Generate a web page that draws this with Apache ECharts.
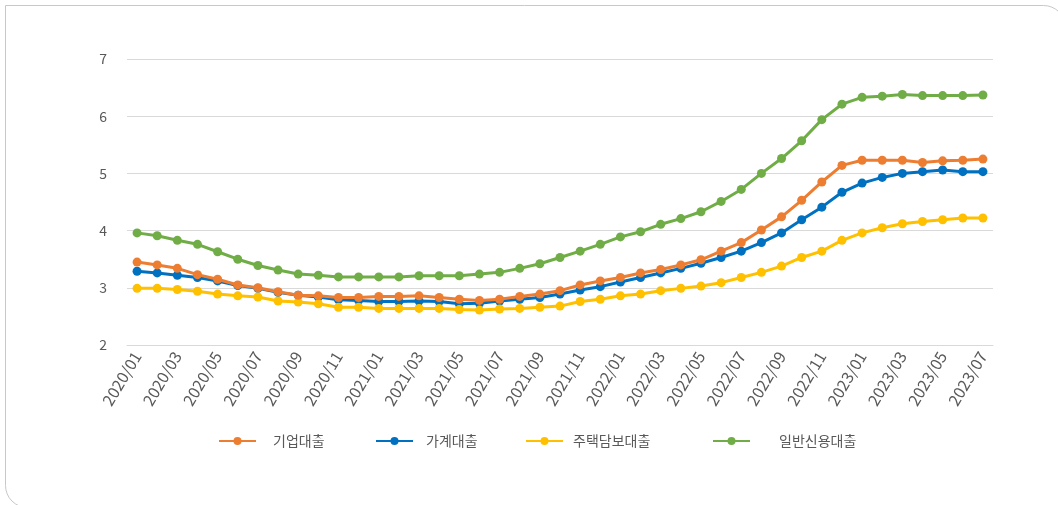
<!DOCTYPE html>
<html>
<head>
<meta charset="utf-8">
<script src="https://cdn.jsdelivr.net/npm/echarts@6/dist/echarts.min.js"></script>
<style>
html,body{margin:0;padding:0;background:#fff;}
#chart{width:1058px;height:505px;}
</style>
</head>
<body>
<div id="chart"></div>
<script>
const categories = [
  '2020/01','2020/02','2020/03','2020/04','2020/05','2020/06','2020/07','2020/08','2020/09','2020/10','2020/11','2020/12',
  '2021/01','2021/02','2021/03','2021/04','2021/05','2021/06','2021/07','2021/08','2021/09','2021/10','2021/11','2021/12',
  '2022/01','2022/02','2022/03','2022/04','2022/05','2022/06','2022/07','2022/08','2022/09','2022/10','2022/11','2022/12',
  '2023/01','2023/02','2023/03','2023/04','2023/05','2023/06','2023/07'
];
const seriesNames = ['기업대출','가계대출','주택담보대출','일반신용대출'];
const corporate = [3.45,3.40,3.34,3.23,3.15,3.05,3.00,2.93,2.87,2.86,2.83,2.83,2.85,2.85,2.86,2.83,2.80,2.78,2.80,2.85,2.89,2.95,3.05,3.12,3.18,3.26,3.32,3.40,3.49,3.64,3.79,4.01,4.24,4.53,4.85,5.14,5.23,5.23,5.23,5.19,5.22,5.23,5.25];
const household = [3.29,3.26,3.22,3.18,3.12,3.04,2.99,2.92,2.87,2.84,2.79,2.78,2.76,2.76,2.77,2.76,2.72,2.73,2.77,2.80,2.83,2.89,2.96,3.02,3.10,3.18,3.26,3.34,3.43,3.53,3.64,3.79,3.96,4.19,4.41,4.67,4.83,4.93,5.00,5.03,5.06,5.03,5.03];
const mortgage = [2.99,2.99,2.97,2.94,2.89,2.86,2.84,2.77,2.75,2.72,2.66,2.66,2.64,2.64,2.64,2.64,2.62,2.61,2.63,2.64,2.66,2.68,2.76,2.80,2.86,2.89,2.95,2.99,3.03,3.09,3.18,3.27,3.38,3.53,3.64,3.83,3.96,4.05,4.12,4.16,4.19,4.22,4.22];
const creditLoan = [3.96,3.91,3.83,3.76,3.63,3.50,3.39,3.31,3.24,3.22,3.19,3.19,3.19,3.19,3.21,3.21,3.21,3.24,3.27,3.34,3.42,3.53,3.64,3.76,3.89,3.98,4.11,4.21,4.33,4.51,4.72,5.00,5.26,5.57,5.94,6.21,6.33,6.35,6.38,6.36,6.36,6.36,6.37];
const yTicks = {min: 2, max: 7, interval: 1};

const colors = ['#ED7D31','#0070C0','#FFC000','#70AD47'];
const dataSets = [corporate, household, mortgage, creditLoan];
const font = "'Noto Sans CJK KR', 'Noto Sans', sans-serif";
const legendLeft = [213, 370, 520, 707];
const legendTextPad = [12, 8, 5, 24];

const chart = echarts.init(document.getElementById('chart'), null, {renderer: 'canvas'});
chart.setOption({
  animation: false,
  backgroundColor: '#ffffff',
  color: colors,
  graphic: [{
    type: 'rect',
    silent: true,
    z: -10,
    shape: {x: 5.5, y: 5.5, width: 1060, height: 502, r: [0, 22, 0, 22]},
    style: {fill: 'none', stroke: '#c8c8c8', lineWidth: 1}
  }],
  grid: {left: 127, right: 65, top: 59, bottom: 160, containLabel: false},
  legend: seriesNames.map((name, i) => ({
    top: 429,
    left: legendLeft[i],
    itemWidth: 37,
    itemHeight: 10,
    textStyle: {fontFamily: font, fontSize: 14, color: '#595959', padding: [0, 0, 0, legendTextPad[i]]},
    data: [name]
  })),
  xAxis: {
    type: 'category',
    data: categories,
    boundaryGap: true,
    axisLine: {show: true, lineStyle: {color: '#d9d9d9', width: 1}},
    axisTick: {show: false},
    axisLabel: {interval: 1, rotate: 59, fontFamily: font, fontSize: 16, color: '#595959', margin: 8}
  },
  yAxis: {
    type: 'value',
    min: yTicks.min,
    max: yTicks.max,
    interval: yTicks.interval,
    axisLine: {show: false},
    axisTick: {show: false},
    splitLine: {lineStyle: {color: '#d9d9d9', width: 1}},
    axisLabel: {fontFamily: font, fontSize: 14, color: '#595959', margin: 20}
  },
  series: seriesNames.map((name, i) => ({
    name: name,
    type: 'line',
    data: dataSets[i],
    symbol: 'circle',
    symbolSize: 9,
    lineStyle: {width: 3, color: colors[i]},
    itemStyle: {color: colors[i]},
    z: 2 + (i === 0 ? 1 : 0)
  }))
});
</script>
</body>
</html>
